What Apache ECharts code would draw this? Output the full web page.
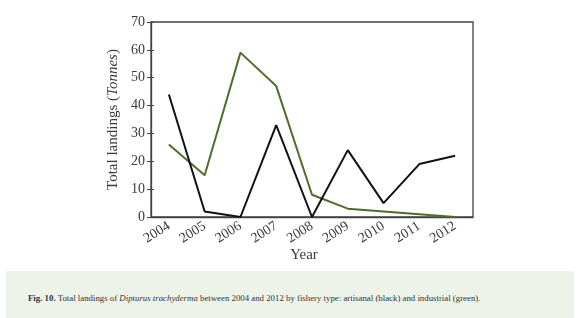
<!DOCTYPE html>
<html>
<head>
<meta charset="utf-8">
<script src="https://cdn.jsdelivr.net/npm/echarts@6/dist/echarts.min.js"></script>
<style>
  body { margin: 0; background: #fff; }
  #main { width: 580px; height: 318px; position: absolute; left: 0; top: 0; }
  .cap {
    position: absolute; left: 6px; top: 271px; width: 568px; height: 47px;
    background: #eef3e9;
  }
  .cap p {
    position: absolute; left: 22px; top: 22px; margin: 0; white-space: nowrap;
    font-family: "Liberation Serif", "DejaVu Serif", serif; font-size: 8.8px; color: #333;
  }
</style>
</head>
<body>
<div class="cap"><p><b>Fig. 10.</b> Total landings of <i>Dipturus trachyderma</i> between 2004 and 2012 by fishery type: artisanal (black) and industrial (green).</p></div>
<div id="main"></div>
<script>
// years and landings (tonnes)
const years = ['2004', '2005', '2006', '2007', '2008', '2009', '2010', '2011', '2012'];
const artisanal = [44, 2, 0, 33, 0, 24, 5, 19, 22];
const industrial = [26, 15, 59, 47, 8, 3, 2, 1, 0];

var chart = echarts.init(document.getElementById('main'));
var font = 'Liberation Serif';
var axisCol = '#444';
var textCol = '#3a3a3a';

var option = {
    animation: false,
    grid: { left: 151, right: 107, top: 22, bottom: 101 },
    xAxis: {
        type: 'category',
        data: years,
        boundaryGap: true,
        name: 'Year',
        nameLocation: 'middle',
        nameGap: 31,
        nameMoveOverlap: false,
        nameTextStyle: { fontFamily: font, fontSize: 15, color: textCol, padding: [0, 16, 0, 0] },
        axisLine: { lineStyle: { color: axisCol, width: 1.3 } },
        axisTick: { show: false },
        axisLabel: { rotate: 32, fontFamily: font, fontSize: 14, color: textCol, margin: 8 }
    },
    yAxis: [
        {
            type: 'value',
            min: 0, max: 70, interval: 10,
            name: '{n|Total landings (}{i|Tonnes}{n|)}',
            nameLocation: 'middle',
            nameGap: 27,
            nameTextStyle: {
                rich: {
                    n: { fontFamily: font, fontSize: 15, color: textCol },
                    i: { fontFamily: font, fontSize: 15, color: textCol, fontStyle: 'italic' }
                }
            },
            axisLine: { show: true, lineStyle: { color: axisCol, width: 1.3 } },
            axisTick: { show: true, length: 4, lineStyle: { color: axisCol } },
            axisLabel: { fontFamily: font, fontSize: 14, color: textCol, margin: 6 },
            splitLine: { show: false }
        },
        {
            type: 'value',
            position: 'left',
            min: 0, max: 70, interval: 10,
            axisLine: { show: false },
            axisTick: { show: true, inside: true, length: 3, lineStyle: { color: axisCol } },
            axisLabel: { show: false },
            splitLine: { show: false }
        }
    ],
    graphic: [{
        type: 'rect',
        shape: { x: 151, y: 22, width: 322, height: 195 },
        style: { fill: 'none', stroke: axisCol, lineWidth: 1.3 },
        silent: true
    }],
    series: [
        {
            name: 'Industrial',
            type: 'line',
            data: industrial,
            symbol: 'none',
            lineStyle: { color: '#4f6e2c', width: 2 }
        },
        {
            name: 'Artisanal',
            type: 'line',
            data: artisanal,
            symbol: 'none',
            lineStyle: { color: '#111', width: 2 }
        }
    ]
};
chart.setOption(option);
</script>
</body>
</html>
